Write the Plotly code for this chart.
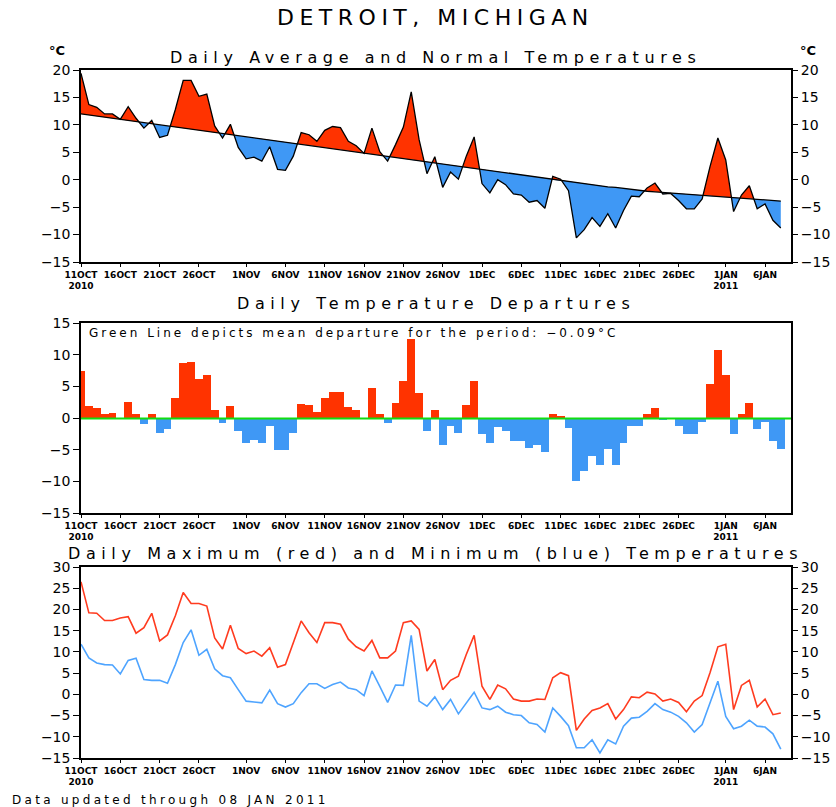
import plotly.graph_objects as go

# ---------------- data ----------------
days = list(range(90))  # day 0 = 11 OCT 2010 ... day 89 = 08 JAN 2011
tick_days = [0, 5, 10, 15, 21, 26, 31, 36, 41, 46, 51, 56, 61, 66, 71, 76, 82, 87]
tick_labels = ["11OCT<br>2010", "16OCT", "21OCT", "26OCT", "1NOV", "6NOV", "11NOV",
               "16NOV", "21NOV", "26NOV", "1DEC", "6DEC", "11DEC", "16DEC", "21DEC",
               "26DEC", "1JAN<br>2011", "6JAN"]

normal = [12.0, 11.8, 11.6, 11.4, 11.2, 11.0, 10.8, 10.6, 10.4, 10.2,
          10.0, 9.8, 9.6, 9.4, 9.2, 9.0, 8.8, 8.6, 8.4, 8.2,
          8.0, 7.8, 7.6, 7.4, 7.2, 7.0, 6.8, 6.6, 6.4, 6.2,
          6.0, 5.8, 5.6, 5.4, 5.2, 5.0, 4.8, 4.6, 4.4, 4.2,
          4.0, 3.8, 3.6, 3.4, 3.2, 3.0, 2.8, 2.6, 2.4, 2.2,
          2.0, 1.8, 1.6, 1.4, 1.2, 1.0, 0.8, 0.6, 0.4, 0.2,
          0.0, -0.2, -0.4, -0.6, -0.8, -0.9, -1.1, -1.3, -1.4, -1.6,
          -1.8, -1.9, -2.1, -2.2, -2.3, -2.5, -2.6, -2.7, -2.8, -2.9,
          -3.0, -3.1, -3.2, -3.3, -3.4, -3.5, -3.6, -3.7, -3.8, -3.9]

average = [19.4, 13.7, 13.2, 12.0, 12.0, 11.0, 13.3, 11.2, 9.4, 10.8,
           7.7, 8.1, 12.8, 18.1, 18.1, 15.2, 15.6, 9.8, 7.6, 10.1,
           5.9, 3.8, 4.1, 3.4, 6.0, 1.9, 1.7, 4.3, 8.6, 8.2,
           7.0, 9.0, 9.7, 9.5, 7.0, 6.2, 4.8, 9.4, 5.1, 3.4,
           6.4, 9.6, 16.0, 7.3, 1.1, 4.2, -1.4, 1.4, 0.1, 4.3,
           7.8, -0.7, -2.4, 0.0, -0.9, -2.6, -2.8, -4.1, -3.8, -5.2,
           0.6, 0.1, -2.0, -10.6, -9.1, -6.9, -8.5, -6.2, -8.8, -5.6,
           -3.0, -3.1, -1.5, -0.6, -2.6, -2.5, -3.8, -5.3, -5.3, -3.5,
           2.4, 7.6, 3.6, -5.8, -2.8, -1.1, -5.3, -4.4, -7.4, -8.8]

departure = [7.4, 1.9, 1.6, 0.6, 0.8, 0.0, 2.5, 0.6, -1.0, 0.6,
             -2.3, -1.7, 3.2, 8.7, 8.9, 6.2, 6.8, 1.2, -0.8, 1.9,
             -2.1, -4.0, -3.5, -4.0, -1.2, -5.1, -5.1, -2.3, 2.2, 2.0,
             1.0, 3.2, 4.1, 4.1, 1.8, 1.2, 0.0, 4.8, 0.7, -0.8,
             2.4, 5.8, 12.4, 3.9, -2.1, 1.2, -4.2, -1.2, -2.3, 2.1,
             5.8, -2.5, -4.0, -1.4, -2.1, -3.6, -3.6, -4.7, -4.2, -5.4,
             0.6, 0.3, -1.6, -10.0, -8.3, -6.0, -7.4, -4.9, -7.4, -4.0,
             -1.2, -1.2, 0.6, 1.6, -0.3, 0.0, -1.2, -2.6, -2.5, -0.6,
             5.4, 10.7, 6.8, -2.5, 0.6, 2.4, -1.7, -0.7, -3.6, -4.9]

mean_departure = -0.09

tmax = [26.5, 19.2, 19.1, 17.4, 17.4, 18.0, 18.3, 14.4, 15.7, 19.1,
        12.6, 14.0, 18.5, 24.0, 21.4, 21.4, 20.8, 13.3, 10.7, 16.3,
        10.8, 9.6, 10.2, 9.0, 11.0, 6.4, 7.0, 12.2, 17.3, 14.5,
        12.2, 16.9, 16.9, 16.5, 13.0, 11.2, 10.2, 12.7, 8.6, 8.6,
        10.2, 16.9, 17.3, 15.3, 5.5, 8.2, 1.1, 3.3, 4.3, 9.4,
        13.9, 1.9, -1.2, 2.2, 1.3, -1.1, -1.6, -1.6, -1.1, -1.2,
        3.9, 5.1, 4.4, -8.5, -5.8, -3.8, -3.2, -2.2, -5.8, -3.6,
        -0.6, -0.8, 0.5, 0.1, -1.6, -1.1, -1.9, -4.1, -1.6, -0.3,
        5.1, 11.2, 11.8, -3.6, 2.1, 3.3, -3.0, -1.1, -4.8, -4.4]

tmin = [11.8, 8.6, 7.4, 7.0, 6.9, 4.8, 8.0, 8.5, 3.5, 3.3,
        3.3, 2.6, 7.0, 12.2, 15.2, 9.2, 10.6, 6.0, 4.4, 3.9,
        1.1, -1.6, -1.8, -2.0, 1.0, -2.2, -3.0, -2.2, 0.4, 2.5,
        2.5, 1.4, 2.3, 2.9, 1.5, 1.1, -0.3, 5.5, 1.9, -1.9,
        2.2, 2.1, 13.9, -1.6, -2.8, -0.6, -3.6, -1.2, -4.6, -2.0,
        0.5, -3.2, -3.6, -2.8, -4.2, -4.8, -5.0, -6.7, -7.1, -8.9,
        -3.2, -5.2, -7.4, -12.6, -12.6, -10.7, -13.8, -10.7, -11.7, -7.5,
        -5.6, -5.4, -4.0, -2.2, -3.6, -4.2, -5.2, -6.7, -8.9, -7.1,
        -2.0, 3.1, -5.2, -8.1, -7.5, -6.1, -7.5, -7.7, -9.3, -12.9]

# ---------------- styling ----------------
RED = "#ff3300"
BLUE = "#3f98f5"
LRED = "#ff3b1f"
LBLUE = "#4ea4ff"
GREEN = "#11dd11"
FONT = "DejaVu Sans"
W, H = 836, 807
X0, X1 = 81, 791
XRANGE = [0, 90.3]


def px_x(p):
    return p / W


def px_y(p):
    return 1 - p / H


def spaced(text, sp):
    return f'<span style="letter-spacing:{sp}px">{text}</span>'


# split average/normal into above/below parts with crossing points
xs, up, lo, nn = [], [], [], []
for i in range(len(days)):
    if i > 0:
        d0 = average[i - 1] - normal[i - 1]
        d1 = average[i] - normal[i]
        if d0 * d1 < 0:
            t = d0 / (d0 - d1)
            xc = days[i - 1] + t * (days[i] - days[i - 1])
            yc = normal[i - 1] + t * (normal[i] - normal[i - 1])
            xs.append(xc); up.append(yc); lo.append(yc); nn.append(yc)
    xs.append(days[i])
    up.append(max(average[i], normal[i]))
    lo.append(min(average[i], normal[i]))
    nn.append(normal[i])

fig = go.Figure()

# Panel 1 fills
fig.add_trace(go.Scatter(x=xs, y=nn, mode="lines", line=dict(width=0), hoverinfo="skip",
                         xaxis="x", yaxis="y"))
fig.add_trace(go.Scatter(x=xs, y=up, mode="lines", line=dict(width=0), fill="tonexty",
                         fillcolor=RED, hoverinfo="skip", xaxis="x", yaxis="y"))
fig.add_trace(go.Scatter(x=xs, y=nn, mode="lines", line=dict(width=0), hoverinfo="skip",
                         xaxis="x", yaxis="y"))
fig.add_trace(go.Scatter(x=xs, y=lo, mode="lines", line=dict(width=0), fill="tonexty",
                         fillcolor=BLUE, hoverinfo="skip", xaxis="x", yaxis="y"))
fig.add_trace(go.Scatter(x=days, y=normal, mode="lines", line=dict(color="black", width=1.3),
                         name="Normal", xaxis="x", yaxis="y"))
fig.add_trace(go.Scatter(x=days, y=average, mode="lines", line=dict(color="black", width=1.3),
                         name="Average", xaxis="x", yaxis="y"))
# right axis carrier (panel 1)
fig.add_trace(go.Scatter(x=days, y=average, mode="lines", line=dict(width=0), opacity=0,
                         hoverinfo="skip", xaxis="x", yaxis="y4"))

# Panel 2 bars
bar_colors = [RED if v >= 0 else BLUE for v in departure]
fig.add_trace(go.Bar(x=days, y=departure, width=1.0, marker=dict(color=bar_colors, line=dict(width=0)),
                     name="Departure", xaxis="x2", yaxis="y2"))

# Panel 3 lines
fig.add_trace(go.Scatter(x=days, y=tmax, mode="lines", line=dict(color=LRED, width=1.6),
                         name="Max", xaxis="x3", yaxis="y3"))
fig.add_trace(go.Scatter(x=days, y=tmin, mode="lines", line=dict(color=LBLUE, width=1.6),
                         name="Min", xaxis="x3", yaxis="y3"))
fig.add_trace(go.Scatter(x=days, y=tmax, mode="lines", line=dict(width=0), opacity=0,
                         hoverinfo="skip", xaxis="x3", yaxis="y5"))

xdom = [px_x(X0), px_x(X1)]
dom1 = [px_y(262), px_y(70)]
dom2 = [px_y(513), px_y(323)]
dom3 = [px_y(758), px_y(567)]

tickfont_y = dict(family=FONT, size=14, color="black")
tickfont_x = dict(family=FONT, size=9, color="black", weight="bold")

common_x = dict(range=XRANGE, domain=xdom, tickmode="array", tickvals=tick_days,
                ticktext=tick_labels, tickfont=tickfont_x, showgrid=False, zeroline=False,
                showline=True, linecolor="black", linewidth=1.5, mirror=True,
                ticks="outside", ticklen=3, tickcolor="black", tickangle=0, automargin=False)
common_y = dict(showgrid=False, zeroline=False, showline=True, linecolor="black", linewidth=1.5,
                mirror=True, ticks="outside", ticklen=6, tickcolor="black", dtick=5,
                tickfont=tickfont_y, tickmode="linear", automargin=False)
right_y = {k: v for k, v in common_y.items() if k not in ("mirror", "showline")}

fig.update_layout(
    template="none",
    width=W, height=H,
    margin=dict(l=0, r=0, t=0, b=0, autoexpand=False),
    paper_bgcolor="white", plot_bgcolor="white",
    showlegend=False,
    bargap=0,
    xaxis=dict(anchor="y", **common_x),
    xaxis2=dict(anchor="y2", **common_x),
    xaxis3=dict(anchor="y3", **common_x),
    yaxis=dict(anchor="x", domain=dom1, range=[-15, 20], tick0=-15, **common_y),
    yaxis4=dict(anchor="x", overlaying="y", side="right", range=[-15, 20], tick0=-15,
                showline=False, **right_y),
    yaxis2=dict(anchor="x2", domain=dom2, range=[-15, 15], tick0=-15, **common_y),
    yaxis3=dict(anchor="x3", domain=dom3, range=[-15, 30], tick0=-15, **common_y),
    yaxis5=dict(anchor="x3", overlaying="y3", side="right", range=[-15, 30], tick0=-15,
                showline=False, **right_y),
)

# green mean departure line
fig.add_shape(type="line", xref="x2 domain", yref="y2", x0=0, x1=1,
              y0=mean_departure, y1=mean_departure, line=dict(color=GREEN, width=2))

ann = []
ann.append(dict(text=spaced("DETROIT, MICHIGAN", 5.5), x=px_x(435), y=px_y(17),
                font=dict(family=FONT, size=22, color="black")))
ann.append(dict(text=spaced("Daily Average and Normal Temperatures", 5.6), x=px_x(436), y=px_y(57),
                font=dict(family=FONT, size=16, color="black")))
ann.append(dict(text=spaced("Daily Temperature Departures", 5.6), x=px_x(436), y=px_y(303),
                font=dict(family=FONT, size=16, color="black")))
ann.append(dict(text=spaced("Daily Maximum (red) and Minimum (blue) Temperatures", 5.6), x=px_x(436),
                y=px_y(553), font=dict(family=FONT, size=16, color="black")))
ann.append(dict(text="°C", x=px_x(57), y=px_y(50),
                font=dict(family=FONT, size=13, color="black", weight="bold")))
ann.append(dict(text="°C", x=px_x(808), y=px_y(50),
                font=dict(family=FONT, size=13, color="black", weight="bold")))
ann.append(dict(text=spaced(f"Green Line depicts mean departure for the period: {'−' if mean_departure < 0 else ''}{abs(mean_departure):.2f}°C", 3.0),
                x=px_x(87), y=px_y(333), xanchor="left",
                font=dict(family=FONT, size=12, color="black")))
ann.append(dict(text=spaced("Data updated through 08 JAN 2011", 3.3), x=px_x(10), y=px_y(800),
                xanchor="left", font=dict(family=FONT, size=12, color="black")))

for a in ann:
    a.setdefault("xanchor", "center")
    a.update(xref="paper", yref="paper", yanchor="middle", showarrow=False)
    fig.add_annotation(**a)

fig.write_html("out.html",
               config={"displayModeBar": False},
               post_script="document.body.style.margin='0';document.body.style.padding='0';"
                           "document.documentElement.style.overflow='hidden';")
